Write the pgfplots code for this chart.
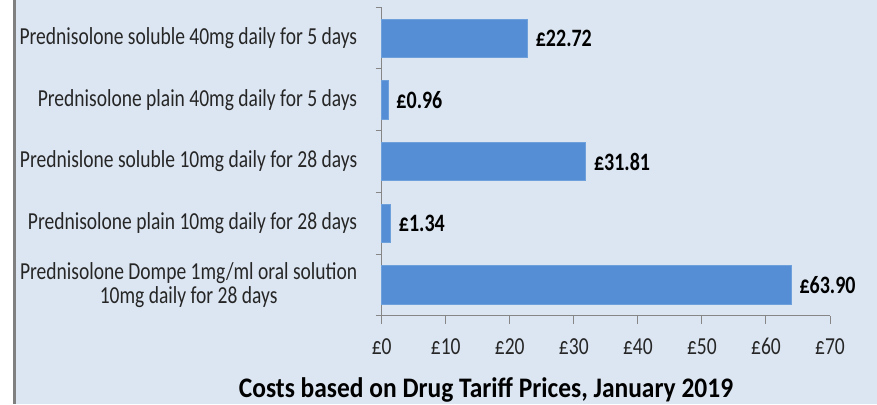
\documentclass[border=0pt]{standalone}
\usepackage{fontspec}
\setmainfont{Carlito}
\newfontfamily\labfont[FakeStretch=0.8]{Carlito}
\newfontfamily\titlefont[FakeStretch=0.9]{Carlito}
\usepackage{pgfplots}
\pgfplotsset{compat=1.18}
\definecolor{bg}{RGB}{220,230,242}
\definecolor{barblue}{RGB}{85,142,213}
\definecolor{baredge}{RGB}{110,160,220}
\definecolor{axgray}{RGB}{134,134,134}
\definecolor{bordergray}{RGB}{128,128,128}
\begin{document}
\begin{tikzpicture}[x=1bp,y=1bp]
\fill[white] (0,0) rectangle (877,404);
\fill[bg] (13,0) rectangle (877,404);
\fill[bordergray] (13,0) rectangle (16,404);
\begin{axis}[
  at={(381.7bp,88.3bp)}, anchor=south west,
  scale only axis, width=448.3bp, height=308.4bp,
  xmin=0, xmax=70, ymin=0.5, ymax=5.5, y dir=reverse,
  enlargelimits=false, clip=false,
  axis x line*=bottom, axis y line*=left,
  axis line style={axgray, line width=1bp, -},
  xtick={0,10,...,70},
  xticklabel={£\pgfmathprintnumber[assume math mode=true]{\tick}},
  xticklabel style={font=\labfont\fontsize{24.4bp}{24bp}\selectfont, text=black!85, anchor=base, yshift=-31bp},
  ytick={1,2,3,4,5},
  yticklabels={Prednisolone soluble 40mg daily for 5 days,
               Prednisolone plain 40mg daily for 5 days,
               Prednislone soluble 10mg daily for 28 days,
               Prednisolone plain 10mg daily for 28 days,
               {Prednisolone Dompe 1mg/ml oral solution\\10mg daily for 28 days}},
  yticklabel style={font=\labfont\fontsize{24.4bp}{24bp}\selectfont, text=black!85, align=center, anchor=east, xshift=-13bp},
  minor ytick={0.5,1.5,2.5,3.5,4.5,5.5},
  tick align=outside,
  tick style={axgray, line width=1bp},
  major tick length=8bp,
  minor tick length=6bp,
  major y tick style={draw=none},
  xbar, bar width=0.62,
  nodes near coords={£\pgfmathprintnumber[fixed,fixed zerofill,precision=2,assume math mode=true]{\pgfplotspointmeta}},
  point meta=x,
  nodes near coords style={font=\labfont\bfseries\fontsize{25bp}{24bp}\selectfont, text=black, anchor=west, xshift=5bp},
  xlabel={Costs based on Drug Tariff Prices, January 2019},
  xlabel style={font=\titlefont\bfseries\fontsize{28.3bp}{30bp}\selectfont, text=black, at={(axis description cs:0.2327,0)}, anchor=base, yshift=-81.8bp},
]
\addplot[fill=barblue, draw=baredge, line width=0.6bp] coordinates {
  (22.72,1) (0.96,2) (31.81,3) (1.34,4) (63.90,5)
};
\end{axis}
\pgfresetboundingbox
\useasboundingbox (0,0) rectangle (877,404);
\end{tikzpicture}
\end{document}
